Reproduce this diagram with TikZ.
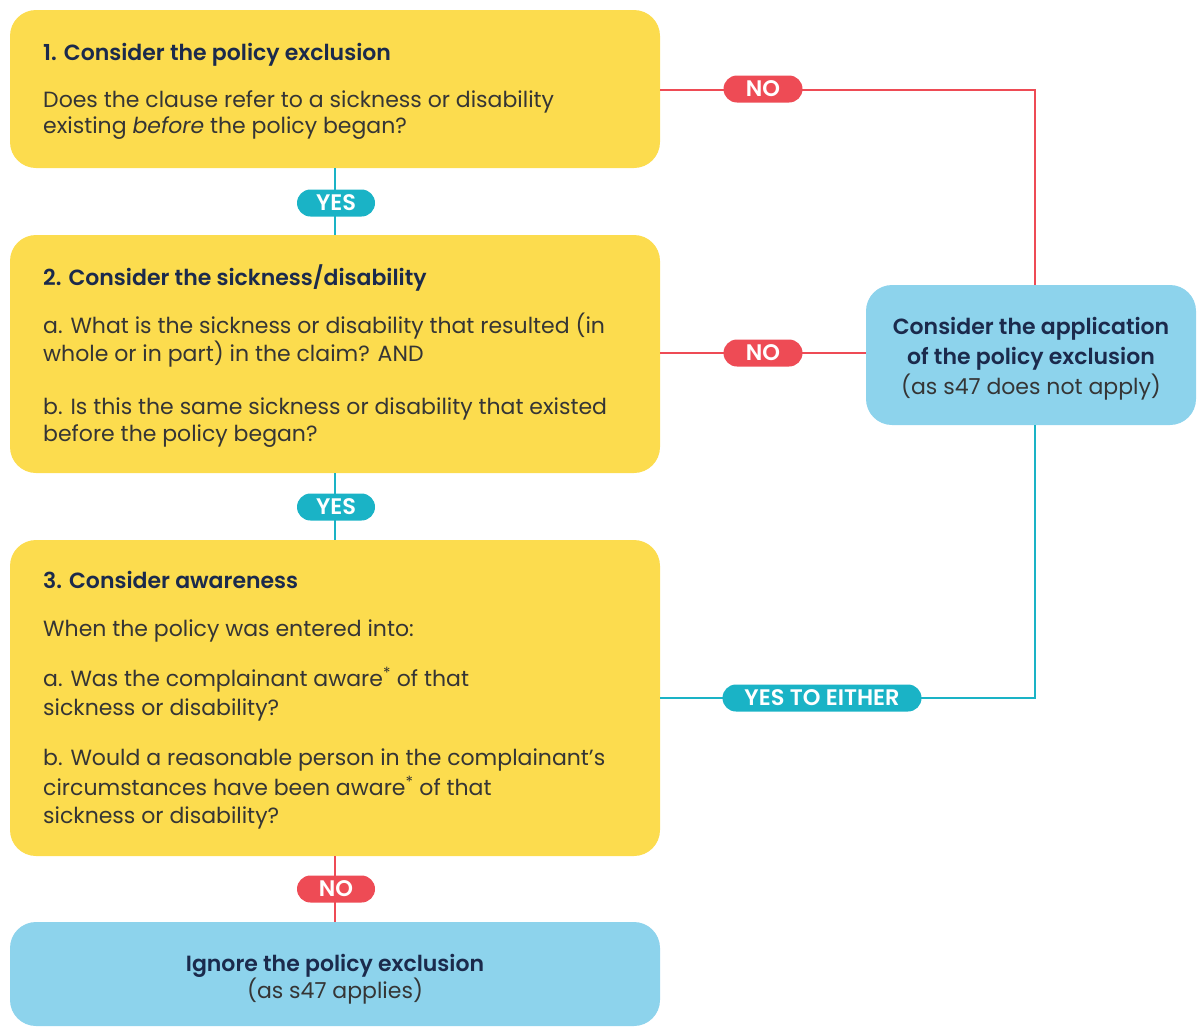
\documentclass[tikz,border=0pt]{standalone}
\usepackage{fontspec}
\setmainfont{Poppins}[BoldFont={Poppins SemiBold}]
\definecolor{boxyellow}{HTML}{FCDC4E}
\definecolor{boxblue}{HTML}{8DD3EC}
\definecolor{linered}{HTML}{EE4B55}
\definecolor{lineteal}{HTML}{1AB3C6}
\definecolor{navy}{HTML}{1B2A4C}
\definecolor{bodygrey}{HTML}{353535}
\tikzset{
  ybox/.style={fill=boxyellow, rounded corners=26pt, inner sep=0pt, minimum width=650pt},
  bbox/.style={fill=boxblue, rounded corners=26pt, inner sep=0pt},
  ttl/.style={anchor=base west, inner sep=0pt, text=navy, font=\fontsize{22}{26}\selectfont\bfseries},
  bdy/.style={anchor=base west, inner sep=0pt, text=bodygrey, font=\fontsize{22}{26}\selectfont},
  cttl/.style={anchor=base, inner sep=0pt, text=navy, font=\fontsize{22}{26}\selectfont\bfseries},
  cbdy/.style={anchor=base, inner sep=0pt, text=bodygrey, font=\fontsize{22}{26}\selectfont},
  redln/.style={draw=linered, line width=2pt},
  tealln/.style={draw=lineteal, line width=2pt},
  pill/.style={rounded corners=13.5pt, inner sep=0pt, minimum height=27pt, text=white, font=\fontsize{22.5}{24}\selectfont\bfseries},
  pillred/.style={pill, fill=linered},
  pillteal/.style={pill, fill=lineteal},
}
\begin{document}
\begin{tikzpicture}[x=1pt, y=-1pt]
\useasboundingbox (0,0) rectangle (1203,1028);
% boxes
\node[ybox, minimum height=158pt] (b1) at (335,89) {};
\node[ybox, minimum height=238pt] (b2) at (335,354) {};
\node[ybox, minimum height=316pt] (b3) at (335,698) {};
\node[bbox, minimum width=650pt, minimum height=104pt] (b4) at (335,974) {};
\node[bbox, minimum width=330pt, minimum height=140pt] (rb) at (1031,355) {};
% texts box 1
\node[ttl] (t1) at (43,60) {1. Consider the policy exclusion};
\node[bdy] (t1a) at (43,107) {Does the clause refer to a sickness or disability};
\node[bdy] (t1b) at (43,133) {existing \textit{before} the policy began?};
% texts box 2
\node[ttl] (t2) at (43,285) {2. Consider the sickness/disability};
\node[bdy] (t2a) at (43,333) {a. What is the sickness or disability that resulted (in};
\node[bdy] (t2b) at (43,361) {whole or in part) in the claim? AND};
\node[bdy] (t2c) at (43,414) {b. Is this the same sickness or disability that existed};
\node[bdy] (t2d) at (43,441) {before the policy began?};
% texts box 3
\node[ttl] (t3) at (43,588) {3. Consider awareness};
\node[bdy] (t3a) at (43,636) {When the policy was entered into:};
\node[bdy] (t3b) at (43,686) {a. Was the complainant aware\textsuperscript{*} of that};
\node[bdy] (t3c) at (43,715) {sickness or disability?};
\node[bdy] (t3d) at (43,765) {b. Would a reasonable person in the complainant’s};
\node[bdy] (t3e) at (43,795) {circumstances have been aware\textsuperscript{*} of that};
\node[bdy] (t3f) at (43,823) {sickness or disability?};
% right box text
\node[cttl] (r1) at (1031,334) {Consider the application};
\node[cttl] (r2) at (1031,364) {of the policy exclusion};
\node[cbdy] (r3) at (1031,394) {(as s47 does not apply)};
% bottom box text
\node[cttl] (g1) at (335,971) {Ignore the policy exclusion};
\node[cbdy] (g2) at (335,998) {(as s47 applies)};
% connectors
\coordinate (c1) at (1035,90);
\coordinate (c3) at (1035,698);
\draw[redln] (b1.east |- c1) -- (c1) -- (c1 |- rb.north);
\draw[redln] (b2.east |- 0,353) -- (rb.west |- 0,353);
\draw[tealln] (b3.east |- c3) -- (c3) -- (c3 |- rb.south);
\draw[tealln] (b1.south) -- (b2.north);
\draw[tealln] (b2.south) -- (b3.north);
\draw[redln] (b3.south) -- (b4.north);
% labels
\node[pillred, minimum width=79pt] (l1) at (763,89) {NO};
\node[pillred, minimum width=79pt] (l2) at (763,353) {NO};
\node[pillteal, minimum width=199pt] (l3) at (822,698) {YES TO EITHER};
\node[pillteal, minimum width=78pt] (l4) at (336,203) {YES};
\node[pillteal, minimum width=78pt] (l5) at (336,507) {YES};
\node[pillred, minimum width=78pt] (l6) at (336,889) {NO};
\end{tikzpicture}
\end{document}
